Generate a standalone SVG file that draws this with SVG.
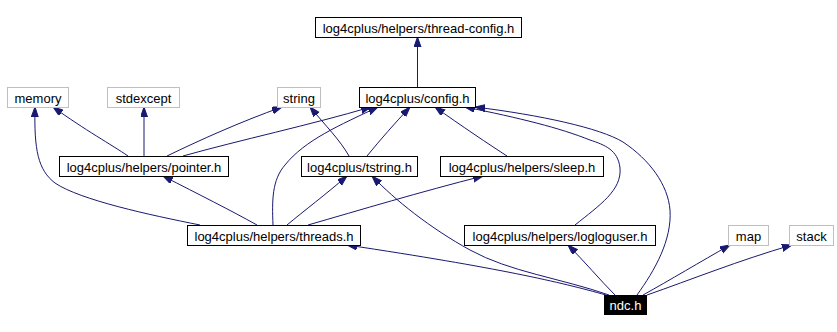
<svg xmlns="http://www.w3.org/2000/svg" width="837" height="332" viewBox="0 0 837 332">
<style>
.n rect{fill:#fff;stroke:#000;stroke-width:1}
.g rect{fill:#fff;stroke:#bfbfbf;stroke-width:1}
.cur rect{fill:#000;stroke:#000}
text{font-family:"Liberation Sans",Arial,sans-serif;font-size:13px;text-anchor:middle;fill:#000}
.cur text{fill:#fff}
.e path{fill:none;stroke:#191970;stroke-width:1;marker-end:url(#ah)}
</style>
<defs>
<marker id="ah" markerUnits="userSpaceOnUse" markerWidth="11" markerHeight="8" refX="10" refY="3.5" orient="auto">
<path d="M0,0 L10,3.5 L0,7 z" fill="#191970" stroke="#191970"/>
</marker>
</defs>
<rect width="837" height="332" fill="#fff"/>
<g class="e" id="edges">
<path d="M417.5,87 L417.5,37"/>
<path d="M128,156 C112,145 85,130 53,107"/>
<path d="M144,156 L144,107"/>
<path d="M167,156 C200,140 240,122 282,107"/>
<path d="M183,156 C240,140 310,125 371,107"/>
<path d="M349,156 C340,140 325,125 310,107"/>
<path d="M367,156 C380,140 395,123 410,107"/>
<path d="M507,156 C490,145 460,125 435,107"/>
<path d="M200,225 C150,215 80,200 55,183 C38,170 34,150 35,107"/>
<path d="M257,225 C230,210 200,195 163,176"/>
<path d="M273,225 C272,200 272,180 285,165 C305,140 340,125 378,107"/>
<path d="M287,225 C305,210 325,195 347,176"/>
<path d="M308,225 C360,210 420,192 483,176"/>
<path d="M606,295 C560,282 500,268 347,245"/>
<path d="M609,295 C560,278 510,272 470,250 C430,228 395,200 372,176"/>
<path d="M615,295 C600,280 585,262 568,245"/>
<path d="M575,225 C600,205 622,190 620,168 C618,150 605,145 590,140 C560,128 520,118 465,107"/>
<path d="M637,295 C655,270 672,240 670,210 C668,185 650,160 623,142 C600,128 540,115 475,107"/>
<path d="M643,295 C670,280 700,262 730,245"/>
<path d="M647,295 C690,280 740,260 792,245"/>
</g>
<g id="thread-config" class="n"><rect x="315.5" y="17.5" width="206" height="20"/><text x="418.5" y="32.5">log4cplus/helpers/thread-config.h</text></g>
<g id="config" class="n"><rect x="359.5" y="87.5" width="116" height="20"/><text x="417.5" y="102.5">log4cplus/config.h</text></g>
<g id="memory" class="g"><rect x="7.5" y="87.5" width="61" height="20"/><text x="38" y="102.5">memory</text></g>
<g id="stdexcept" class="g"><rect x="107.5" y="87.5" width="72" height="20"/><text x="143.5" y="102.5">stdexcept</text></g>
<g id="string" class="g"><rect x="277.5" y="87.5" width="43" height="20"/><text x="299" y="102.5">string</text></g>
<g id="pointer" class="n"><rect x="59.5" y="156.5" width="169" height="20"/><text x="144" y="171.5">log4cplus/helpers/pointer.h</text></g>
<g id="tstring" class="n"><rect x="301.5" y="156.5" width="116" height="20"/><text x="359.5" y="171.5">log4cplus/tstring.h</text></g>
<g id="sleep" class="n"><rect x="440.5" y="156.5" width="163" height="20"/><text x="522" y="171.5">log4cplus/helpers/sleep.h</text></g>
<g id="threads" class="n"><rect x="187.5" y="225.5" width="173" height="20"/><text x="274" y="240.5">log4cplus/helpers/threads.h</text></g>
<g id="logloguser" class="n"><rect x="464.5" y="225.5" width="191" height="20"/><text x="560" y="240.5">log4cplus/helpers/logloguser.h</text></g>
<g id="map" class="g"><rect x="728.5" y="225.5" width="40" height="20"/><text x="748.5" y="240.5">map</text></g>
<g id="stack" class="g"><rect x="789.5" y="225.5" width="44" height="20"/><text x="811.5" y="240.5">stack</text></g>
<g id="ndc" class="cur"><rect x="604.5" y="295.5" width="42" height="19"/><text x="625.5" y="310">ndc.h</text></g>
</svg>
